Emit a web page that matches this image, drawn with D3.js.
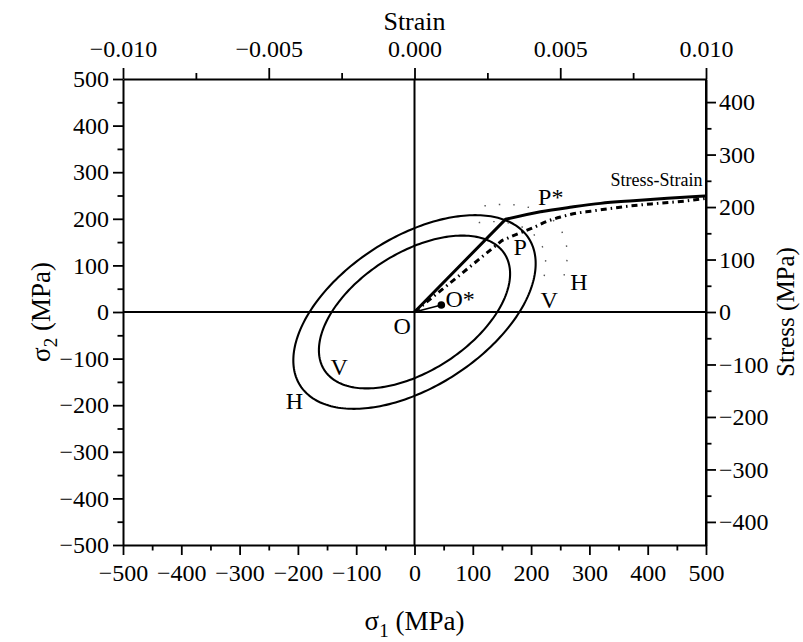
<!DOCTYPE html>
<html>
<head>
<meta charset="utf-8">
<script src="https://cdn.jsdelivr.net/npm/d3@7"></script>
<style>
  html, body { margin: 0; padding: 0; background: #fff; }
  svg { display: block; }
  text { font-family: "Liberation Serif", "Times New Roman", serif; fill: #000; }
</style>
</head>
<body>
<svg id="chart" width="803" height="642"></svg>
<script>
// Principal stress axes (MPa)
const sigmaTicks = [-500, -400, -300, -200, -100, 0, 100, 200, 300, 400, 500];
const sigmaMinor = [-450, -350, -250, -150, -50, 50, 150, 250, 350, 450];
// Strain / stress axes of the uniaxial curves
const strainTicks = [-0.010, -0.005, 0.000, 0.005, 0.010];
const strainMinor = [-0.0075, -0.0025, 0.0025, 0.0075];
const stressTicks = [-400, -300, -200, -100, 0, 100, 200, 300, 400];
const stressMinor = [-350, -250, -150, -50, 50, 150, 250, 350];

// Initial yield loci (von Mises form, yield stress k in MPa)
const initialLoci = ["H", "V"];
const initialYield = [180, 142];
// Subsequent yield loci, centred on the back-stress point O*
const backStress = [46, 15];          // O* (sigma1, sigma2)
const subsequentLoci = ["H", "V"];
const subsequentYield = [187, 155];
const subsequentArcStart = [-40, -39]; // degrees on the locus
const subsequentArcEnd = [50, 48];

// Stress–strain curves (strain, stress MPa)
const curveSolidStrain = [0, 0.00312, 0.00432, 0.00540, 0.00638, 0.00750, 0.00868, 0.00998];
const curveSolidStress = [0, 176.6, 191, 200, 207, 212, 216.6, 221];
const curveDashStrain = [0, 0.00300, 0.00350, 0.00405, 0.00456, 0.00501, 0.00559, 0.00604, 0.00717, 0.00834, 0.00937, 0.00998];
const curveDashStress = [0, 136, 148, 160, 173, 181, 188.6, 192, 200.6, 207, 212, 216.6];

const plotLeft = 123, plotRight = 706, plotTop = 79, plotBottom = 545;

const svg = d3.select("#chart");

const x = d3.scaleLinear().domain([-500, 500]).range([plotLeft, plotRight]);
const y = d3.scaleLinear().domain([-500, 500]).range([plotBottom, plotTop]);
const xs = d3.scaleLinear().domain([-0.010, 0.010]).range([plotLeft, plotRight]);
const ys = d3.scaleLinear().domain([-444, 444]).range([plotBottom, plotTop]);

const tickFont = 24;
const majorLen = 10, minorLen = 5.5;

function styleAxis(g) {
  g.selectAll(".domain").attr("stroke", "#000").attr("stroke-width", 2);
  g.selectAll(".tick line").attr("stroke", "#000").attr("stroke-width", 1.8);
  g.selectAll(".tick text").style("font-size", tickFont + "px")
    .style("font-family", "'Liberation Serif', 'Times New Roman', serif");
}

const fmtInt = d3.format("d");
const fmtStrain = d3.format(".3f");

// bottom sigma1
svg.append("g").attr("transform", `translate(0,${plotBottom})`)
  .call(d3.axisBottom(x).tickValues(sigmaMinor).tickSize(minorLen).tickFormat(""))
  .call(g => g.select(".domain").remove())
  .call(styleAxis);
svg.append("g").attr("transform", `translate(0,${plotBottom})`)
  .call(d3.axisBottom(x).tickValues(sigmaTicks).tickSize(majorLen).tickSizeOuter(0).tickPadding(9).tickFormat(fmtInt))
  .call(styleAxis);

// left sigma2
svg.append("g").attr("transform", `translate(${plotLeft},0)`)
  .call(d3.axisLeft(y).tickValues(sigmaMinor).tickSize(minorLen).tickFormat(""))
  .call(g => g.select(".domain").remove())
  .call(styleAxis);
svg.append("g").attr("transform", `translate(${plotLeft},0)`)
  .call(d3.axisLeft(y).tickValues(sigmaTicks).tickSize(majorLen).tickSizeOuter(0).tickPadding(4).tickFormat(fmtInt))
  .call(styleAxis);

// top strain
svg.append("g").attr("transform", `translate(0,${plotTop})`)
  .call(d3.axisTop(xs).tickValues(strainMinor).tickSize(minorLen + 0.5).tickFormat(""))
  .call(g => g.select(".domain").remove())
  .call(styleAxis);
svg.append("g").attr("transform", `translate(0,${plotTop})`)
  .call(d3.axisTop(xs).tickValues(strainTicks).tickSize(majorLen + 1).tickSizeOuter(0).tickPadding(11).tickFormat(fmtStrain))
  .call(styleAxis);

// right stress
svg.append("g").attr("transform", `translate(${plotRight},0)`)
  .call(d3.axisRight(ys).tickValues(stressMinor).tickSize(minorLen).tickFormat(""))
  .call(g => g.select(".domain").remove())
  .call(styleAxis);
svg.append("g").attr("transform", `translate(${plotRight},0)`)
  .call(d3.axisRight(ys).tickValues(stressTicks).tickSize(majorLen).tickSizeOuter(0).tickPadding(3).tickFormat(fmtInt))
  .call(styleAxis);

// right axis line spans the full frame
svg.append("line").attr("x1", plotRight).attr("x2", plotRight).attr("y1", plotTop).attr("y2", plotBottom)
  .attr("stroke", "#000").attr("stroke-width", 2);

// zero cross lines
svg.append("line").attr("x1", x(-500)).attr("x2", x(500)).attr("y1", y(0)).attr("y2", y(0))
  .attr("stroke", "#000").attr("stroke-width", 2);
svg.append("line").attr("x1", x(0)).attr("x2", x(0)).attr("y1", y(-500)).attr("y2", y(500))
  .attr("stroke", "#000").attr("stroke-width", 2);

// von Mises locus: s1 = c1 + k cos t + k/sqrt3 sin t, s2 = c2 + k cos t - k/sqrt3 sin t
function locus(c, k, t0, t1) {
  const n = 240;
  return d3.range(n + 1).map(i => {
    const t = (t0 + (t1 - t0) * i / n) * Math.PI / 180;
    return [c[0] + k * Math.cos(t) + k / Math.sqrt(3) * Math.sin(t),
            c[1] + k * Math.cos(t) - k / Math.sqrt(3) * Math.sin(t)];
  });
}
const sigmaLine = d3.line().x(d => x(d[0])).y(d => y(d[1]));

initialYield.forEach(k => {
  svg.append("path").attr("d", sigmaLine(locus([0, 0], k, 0, 360)))
    .attr("fill", "none").attr("stroke", "#000").attr("stroke-width", 2.1);
});

subsequentYield.forEach((k, i) => {
  svg.append("path")
    .attr("d", sigmaLine(locus(backStress, k, subsequentArcStart[i], subsequentArcEnd[i])))
    .attr("fill", "none").attr("stroke", "#555").attr("stroke-width", 1.4)
    .attr("stroke-dasharray", "1.5,13");
});

// stress–strain curves: straight elastic segment, then smooth hardening branch
const straight = d3.line().x(d => xs(d[0])).y(d => ys(d[1]));
const ssLine = d3.line().x(d => xs(d[0])).y(d => ys(d[1])).curve(d3.curveMonotoneX);
const solid = curveSolidStrain.map((e, i) => [e, curveSolidStress[i]]);
const dashed = curveDashStrain.map((e, i) => [e, curveDashStress[i]]);

svg.append("path").attr("d", straight(solid.slice(0, 2)) + ssLine(solid.slice(1)).replace(/^M/, "L"))
  .attr("fill", "none").attr("stroke", "#000").attr("stroke-width", 3);

svg.append("path").attr("d", straight(dashed.slice(0, 2)) + ssLine(dashed.slice(1)).replace(/^M/, "L"))
  .attr("fill", "none").attr("stroke", "#000").attr("stroke-width", 3)
  .attr("stroke-dasharray", "6,4,1.5,4");

// back-stress vector O -> O*
svg.append("line").attr("x1", x(0)).attr("y1", y(0))
  .attr("x2", x(backStress[0])).attr("y2", y(backStress[1]))
  .attr("stroke", "#000").attr("stroke-width", 1.6);
svg.append("circle").attr("cx", x(backStress[0])).attr("cy", y(backStress[1])).attr("r", 3.8)
  .attr("fill", "#000");

// point labels (sigma coordinates)
const labels = [
  { t: "P*", s1: 212, s2: 229 },
  { t: "P", s1: 170, s2: 122 },
  { t: "H", s1: 267, s2: 47 },
  { t: "V", s1: 216, s2: 8 },
  { t: "O*", s1: 53, s2: 10.5 },
  { t: "O", s1: -36, s2: -47 },
  { t: "V", s1: -144, s2: -135 },
  { t: "H", s1: -221, s2: -208 }
];
svg.append("g").selectAll("text").data(labels).join("text")
  .attr("x", d => x(d.s1)).attr("y", d => y(d.s2))
  .style("font-size", "24px").text(d => d.t);

svg.append("text").attr("x", x(494)).attr("y", y(270)).attr("text-anchor", "end")
  .style("font-size", "18px").text("Stress-Strain");

// axis titles
svg.append("text").attr("x", x(0)).attr("y", 30).attr("text-anchor", "middle")
  .style("font-size", "26px").text("Strain");

const bt = svg.append("text").attr("x", x(0)).attr("y", 630).attr("text-anchor", "middle")
  .style("font-size", "27px");
bt.append("tspan").text("σ");
bt.append("tspan").attr("dy", 7).style("font-size", "19px").text("1");
bt.append("tspan").attr("dy", -7).text(" (MPa)");

const lt = svg.append("text").attr("transform", `translate(50,${y(0)}) rotate(-90)`)
  .attr("text-anchor", "middle").style("font-size", "27px");
lt.append("tspan").text("σ");
lt.append("tspan").attr("dy", 7).style("font-size", "19px").text("2");
lt.append("tspan").attr("dy", -7).text(" (MPa)");

svg.append("text").attr("transform", `translate(794,${y(0)}) rotate(-90)`)
  .attr("text-anchor", "middle").style("font-size", "25px").text("Stress (MPa)");
</script>
</body>
</html>
